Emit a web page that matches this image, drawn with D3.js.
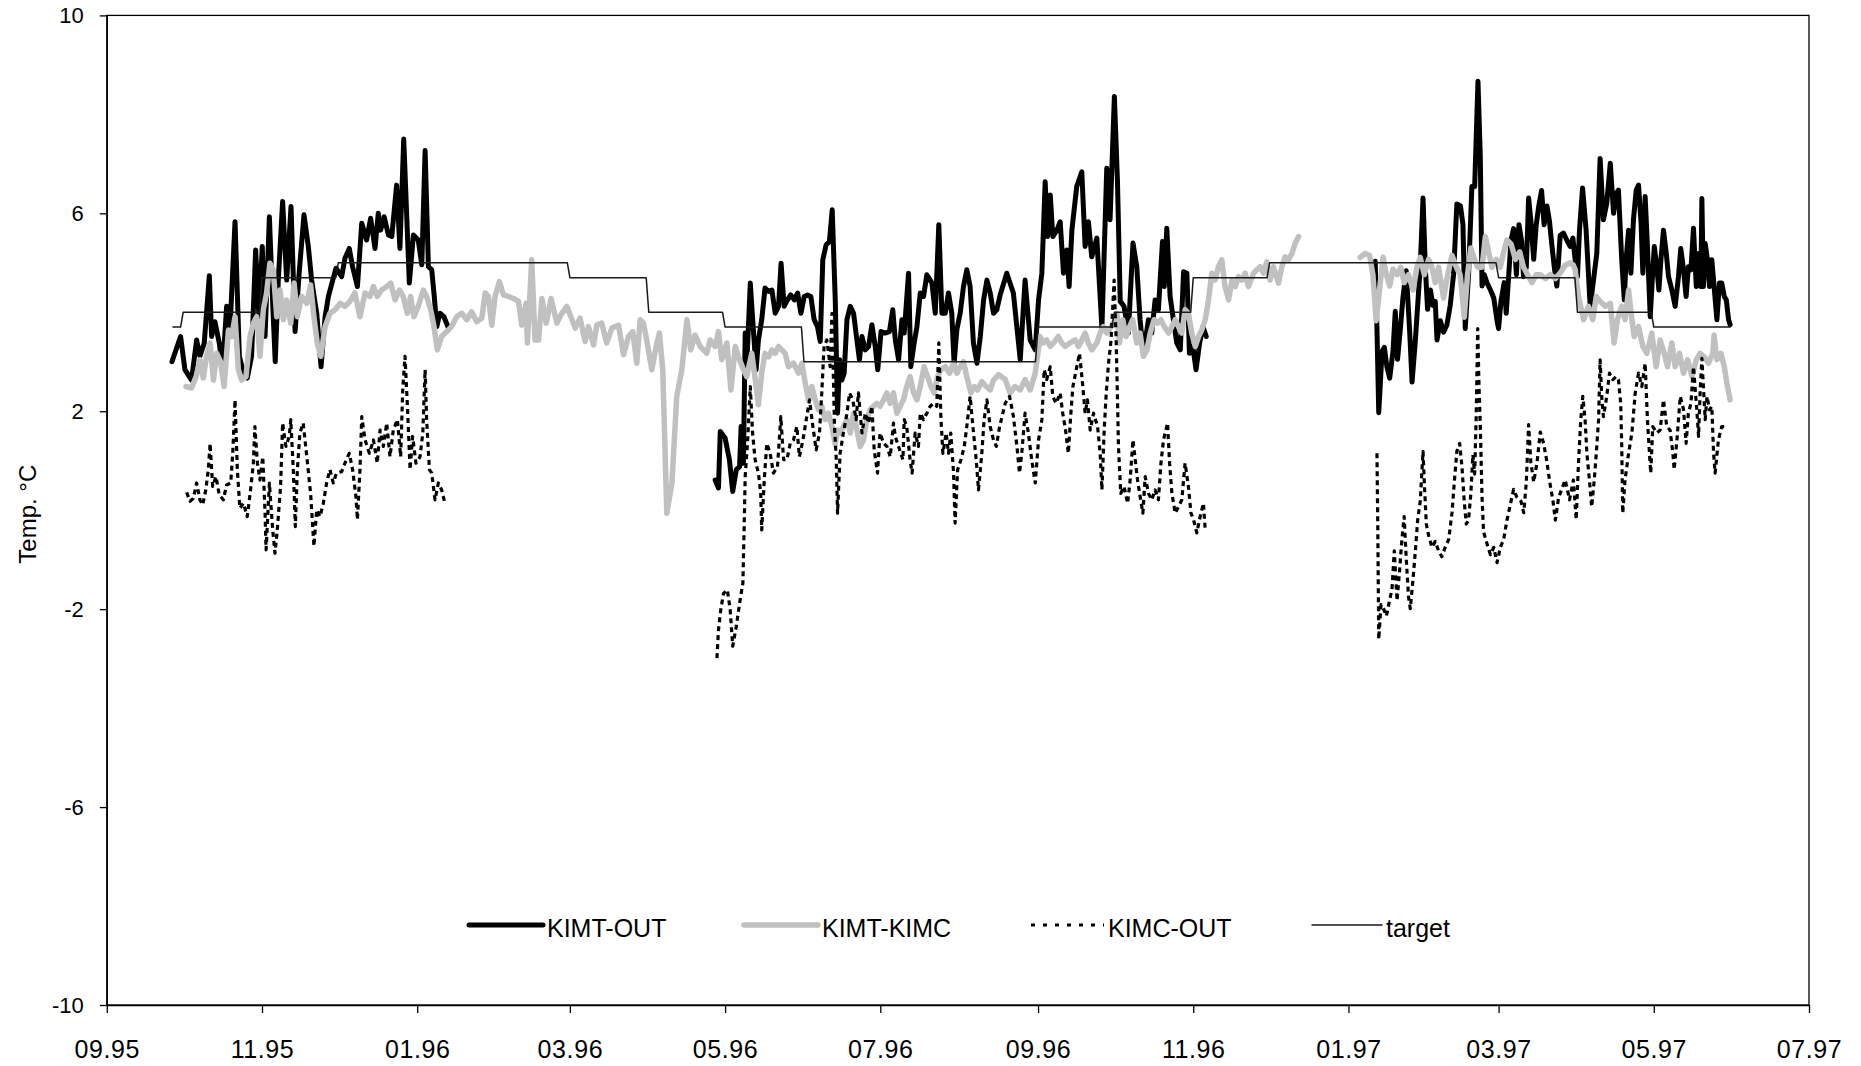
<!DOCTYPE html>
<html><head><meta charset="utf-8">
<script src="https://cdn.jsdelivr.net/npm/d3@7"></script>
<style>
body{margin:0;background:#fff}
text{font-family:"Liberation Sans",Arial,sans-serif;fill:#000}
</style>
</head><body>
<svg id="chart" width="1861" height="1066"></svg>
<script>
// ---------------- data ----------------
// x values are days counted from seriesStart (daily records), y values in °C
const seriesStart = "1995-09-01";
const xDomain = ["1995-09-01", "1997-07-01"];
const xTickDates = ["1995-09-01","1995-11-01","1996-01-01","1996-03-01","1996-05-01","1996-07-01",
  "1996-09-01","1996-11-01","1997-01-01","1997-03-01","1997-05-01","1997-07-01"];
const yTicks = [-10, -6, -2, 2, 6, 10];
const seriesNames = ["KIMT-OUT", "KIMT-KIMC", "KIMC-OUT", "target"];

const target = [[26,3.7],[29,3.7],[30,4.0],[60,4.0],[61,4.7],[90,4.7],[91,5.0],[181,5.0],[182,4.7],[212,4.7],
  [213,4.0],[242,4.0],[243,3.7],[273,3.7],[274,3.0],[365,3.0],[366,3.7],[395,3.7],[396,4.0],[426,4.0],
  [427,4.7],[456,4.7],[457,5.0],[546,5.0],[547,4.7],[577,4.7],[578,4.0],[607,4.0],[608,3.7],[638,3.7]];

const kimtOut1 = [[25.6,3.0],[29.0,3.51],[30.7,2.84],[33.3,2.63],[35.3,3.44],[36.6,3.11],[38.3,3.38],[40.3,4.74],[41.2,3.51],[42.5,3.81],[44.2,3.38],[45.5,2.84],[47.1,4.12],[48.4,3.64],[50.4,5.83],[52.1,3.11],[53.4,2.84],[55.2,2.67],[56.9,3.11],[58.5,5.26],[59.8,3.91],[61.1,5.33],[62.2,3.51],[63.9,5.93],[65.2,4.18],[66.2,3.0],[67.4,4.65],[69.1,6.24],[70.7,4.65],[72.4,6.14],[74.0,3.61],[75.7,4.86],[77.5,5.97],[79.2,5.33],[80.5,4.65],[82.5,3.98],[84.2,2.90],[85.8,3.91],[87.1,4.32],[88.8,4.65],[90.1,4.89],[92.3,4.72],[93.6,5.09],[95.3,5.29],[96.6,4.92],[98.5,4.52],[100.2,5.80],[102.1,5.46],[103.7,5.90],[105.4,5.29],[106.7,6.0],[107.6,5.66],[109.0,5.93],[110.7,5.56],[112.0,5.53],[113.9,6.57],[115.2,5.29],[116.7,7.5],[118.9,4.59],[120.5,5.56],[122.4,5.46],[123.8,4.96],[125.1,7.27],[126.4,4.92],[127.7,4.86],[128.7,4.32],[129.7,3.71],[130.9,3.98],[132.5,3.91],[134.3,3.68]];
const kimtOut2 = [[239.1,0.61],[240.4,0.45],[241.1,1.59],[243.0,1.46],[244.7,1.02],[246.0,0.38],[247.4,0.82],[248.7,0.88],[249.3,1.69],[250.2,0.95],[250.9,3.58],[251.5,2.90],[252.9,4.59],[254.2,3.58],[255.2,2.84],[256.1,3.44],[257.4,3.85],[258.7,4.49],[260.1,4.42],[261.4,4.45],[262.7,3.98],[264.0,4.12],[265.0,4.99],[266.2,4.12],[267.5,4.25],[268.8,4.35],[270.2,4.25],[271.5,4.39],[272.8,3.98],[274.1,4.32],[275.4,4.35],[276.7,4.32],[278.0,3.85],[279.3,3.71],[280.4,3.41],[281.4,5.06],[282.7,5.36],[284.0,5.43],[285.1,6.07],[286.3,4.25],[287.2,1.96],[288.0,3.04],[288.9,2.63],[289.8,2.77],[290.9,3.85],[292.2,4.12],[293.5,3.98],[294.8,3.44],[295.8,3.04],[296.8,3.51],[298.1,3.24],[299.4,3.31],[300.7,3.75],[302.0,3.31],[303.0,2.84],[304.3,3.61],[305.9,3.58],[307.6,3.61],[308.9,4.05],[309.9,3.44],[311.2,3.04],[312.5,3.85],[313.4,3.58],[315.1,4.79],[316.0,2.90],[317.1,3.31],[318.4,3.71],[319.7,4.39],[321.0,4.32],[322.3,4.76],[324.3,4.59],[325.6,3.98],[327.0,5.77],[328.2,3.98],[329.5,3.98],[330.8,4.39],[332.1,3.98],[333.0,2.97],[334.1,3.65],[335.4,3.98],[336.7,4.52],[338.0,4.86],[339.3,4.52],[340.6,3.38],[342.0,2.97],[343.3,3.51],[344.6,4.25],[345.9,4.65],[347.2,4.39],[348.5,3.98],[349.8,4.05],[351.1,4.35],[353.7,4.79],[356.3,4.39],[359.0,3.04],[360.9,4.65],[362.9,3.44],[364.9,3.24],[366.2,4.25],[367.5,4.79],[368.8,6.64],[369.7,5.53],[370.8,6.37],[371.8,5.53],[373.4,5.66],[374.7,5.83],[376.0,4.79],[377.3,5.26],[378.2,4.52],[379.3,5.66],[381.2,6.54],[383.2,6.84],[384.5,5.33],[385.8,5.83],[387.1,5.12],[389.1,5.50],[391.1,3.68],[393.0,6.91],[394.3,5.87],[396.0,8.36],[397.2,6.67],[398.3,4.22],[399.8,4.12],[401.5,3.58],[403.3,5.40],[404.8,4.92],[406.1,3.85],[407.4,3.17],[409.4,3.85],[410.7,3.58],[412.0,4.25],[413.3,4.05],[414.9,5.43],[415.6,4.52],[416.6,5.70],[417.9,4.32],[419.2,3.85],[420.5,3.38],[421.9,3.24],[423.2,4.82],[424.5,4.79],[425.5,3.17],[426.8,3.31],[428.1,2.84],[429.5,3.38],[430.8,3.71],[432.1,3.51]];
const kimtOut3 = [[498.5,5.03],[499.2,3.67],[499.9,1.97],[501.2,3.21],[502.1,3.29],[503.1,2.90],[504.2,2.67],[505.5,3.21],[506.4,4.02],[507.3,3.05],[508.4,3.67],[509.4,4.29],[510.7,4.84],[512.0,3.67],[513.0,2.59],[514.3,3.44],[515.6,4.45],[516.2,4.91],[517.3,6.31],[518.2,4.91],[519.1,4.06],[520.2,4.45],[521.2,4.14],[522.1,4.22],[522.8,3.44],[524.1,3.83],[525.4,3.60],[526.7,3.75],[528.0,4.14],[529.3,4.76],[530.6,6.19],[532.0,6.15],[533.0,5.77],[533.9,3.67],[535.2,4.76],[536.5,6.54],[537.6,6.54],[538.9,8.67],[539.8,7.16],[540.5,4.53],[541.4,4.76],[542.4,4.60],[543.8,4.45],[545.1,4.29],[546.4,3.83],[547.0,3.67],[547.9,4.21],[549.2,4.60],[550.0,3.98],[551.0,4.76],[551.9,5.46],[552.9,5.69],[554.0,4.76],[555.0,5.77],[556.1,5.42],[556.8,4.72],[557.9,4.91],[558.8,6.31],[559.7,5.84],[560.8,5.07],[561.8,5.77],[562.8,6.15],[563.9,6.46],[564.9,5.77],[566.0,6.15],[567.0,5.84],[567.9,5.38],[568.9,4.91],[569.9,4.53],[571.2,5.55],[572.5,5.6],[573.8,5.46],[575.1,5.33],[576.2,5.50],[577.1,5.06],[578.0,4.72],[578.8,5.66],[580.0,6.51],[581.4,5.66],[583.0,4.12],[584.3,4.65],[585.6,5.19],[586.9,7.11],[588.2,5.87],[589.5,6.20],[590.9,7.01],[592.2,6.00],[593.2,6.40],[594.1,6.47],[595.4,5.06],[596.4,4.25],[597.1,5.06],[598.1,5.66],[599.0,4.79],[600.0,5.87],[601.1,6.47],[602.0,6.57],[603.0,5.80],[603.7,4.79],[604.6,6.34],[605.5,5.33],[606.6,3.91],[607.4,4.65],[608.2,5.33],[609.2,4.92],[610.0,4.45],[610.8,5.06],[611.8,5.66],[612.9,5.19],[613.8,4.72],[615.1,4.45],[616.4,4.12],[617.7,4.72],[618.6,5.29],[619.7,4.86],[620.7,4.32],[621.6,4.92],[622.6,4.86],[623.6,5.70],[624.7,4.52],[625.6,5.19],[626.5,4.52],[626.9,6.30],[627.5,4.52],[628.2,5.39],[629.1,5.06],[629.9,4.52],[630.8,5.06],[631.7,4.52],[632.8,3.85],[633.8,4.59],[634.7,4.59],[635.7,4.32],[636.5,4.25],[637.4,3.85],[638.0,3.75]];

const kimtKimc1 = [[31.1,2.50],[33.3,2.47],[35.1,2.70],[36.6,3.04],[37.9,2.67],[39.2,3.11],[40.6,3.38],[41.9,2.63],[43.2,3.17],[44.7,3.00],[46.1,2.50],[47.8,3.64],[49.1,3.51],[50.4,3.91],[51.7,2.84],[53.0,2.63],[54.7,2.70],[56.3,3.51],[57.6,3.78],[58.9,3.91],[60.2,3.11],[61.5,4.05],[62.8,4.39],[64.1,4.99],[65.4,4.86],[66.8,3.91],[68.1,4.45],[69.4,3.85],[70.7,4.25],[72.3,3.78],[73.6,4.59],[74.9,3.91],[76.6,4.32],[78.6,4.18],[80.1,4.55],[81.4,3.91],[82.7,3.38],[84.1,3.11],[85.8,3.71],[87.7,3.98],[89.7,4.05],[91.7,4.18],[93.6,4.12],[95.6,4.22],[97.5,4.39],[99.5,3.91],[101.5,4.39],[103.4,4.32],[104.8,4.52],[106.3,4.32],[108.0,4.45],[110.0,4.52],[111.6,4.59],[113.3,4.25],[115.0,4.45],[116.5,4.32],[118.1,3.98],[119.4,4.32],[120.7,3.91],[122.4,4.12],[124.4,4.45],[125.7,4.32],[127.3,4.05],[128.6,3.71],[129.9,3.24],[131.6,3.51],[133.6,3.61],[135.5,3.71],[137.5,3.91],[139.5,3.98],[141.5,3.85],[143.4,4.01],[145.4,3.81],[147.4,3.88],[148.7,4.39],[150.0,4.32],[151.3,3.74],[152.6,4.32],[154.3,4.62],[155.9,4.35],[157.9,4.32],[159.8,4.28],[161.8,4.22],[163.1,3.74],[164.8,4.18],[165.3,3.38],[167.0,5.06],[168.3,3.44],[169.7,3.44],[171.0,4.28],[172.7,3.78],[174.6,4.28],[176.9,3.78],[178.8,3.98],[180.8,4.12],[182.4,3.91],[184.1,3.68],[186.0,3.88],[188.0,3.41],[189.3,3.71],[191.3,3.34],[192.6,3.74],[194.5,3.78],[196.5,3.38],[198.5,3.68],[201.1,3.74],[203.1,3.14],[205.0,3.51],[206.7,3.61],[208.3,2.97],[209.6,3.85],[210.9,3.78],[212.2,3.44],[214.2,2.84],[215.9,3.31],[217.2,3.58],[218.5,2.84],[220.1,-0.06],[222.1,0.55],[224.0,2.30],[226.0,2.84],[228.0,3.85],[229.5,3.24],[231.2,3.54],[233.2,3.31],[235.8,3.17],[237.1,3.44],[239.1,3.31],[240.4,3.61],[241.7,3.04],[243.7,3.38],[245.3,2.43],[247.0,3.31],[248.7,3.04],[250.2,2.84],[251.5,2.70],[253.5,3.17],[255.2,2.50],[256.1,2.13],[257.4,2.77],[258.7,3.17],[260.1,3.10],[261.4,3.24],[262.7,3.17],[264.0,3.31],[265.3,3.24],[266.6,3.17],[267.9,2.90],[269.9,2.97],[271.9,2.77],[273.2,2.97],[274.5,2.57],[275.8,2.23],[277.1,2.50],[278.4,2.23],[279.7,2.03],[281.0,2.10],[282.3,1.83],[283.6,1.96],[285.0,1.69],[286.3,1.32],[287.2,1.62],[288.5,1.56],[289.5,1.69],[290.9,1.83],[292.2,1.56],[293.5,1.96],[294.8,1.62],[296.1,1.29],[297.4,1.42],[298.7,1.83],[300.0,2.03],[301.3,2.10],[302.6,2.16],[303.9,2.10],[305.3,2.23],[306.6,2.37],[307.9,2.16],[309.2,2.37],[310.5,1.96],[311.8,2.10],[313.1,2.23],[314.4,2.50],[315.7,2.70],[317.1,2.37],[318.4,2.23],[319.7,2.50],[321.2,2.90],[322.6,2.70],[323.9,2.50],[325.2,2.37],[326.5,2.70],[327.8,2.84],[329.5,2.90],[331.2,2.77],[332.8,2.97],[334.1,2.77],[335.4,2.90],[336.7,3.00],[338.0,2.70],[339.6,2.37],[340.9,2.50],[342.2,2.43],[343.9,2.60],[345.6,2.50],[347.2,2.43],[348.5,2.63],[350.5,2.74],[353.1,2.64],[355.0,2.37],[357.0,2.50],[359.0,2.43],[360.9,2.64],[362.9,2.43],[364.9,2.77],[366.8,3.51],[368.1,3.38],[369.4,3.44],[370.8,3.31],[372.1,3.38],[374.0,3.51],[375.3,3.38],[376.6,3.31],[378.6,3.38],[380.6,3.44],[381.9,3.31],[383.2,3.44],[384.5,3.58],[385.8,3.38],[387.1,3.24],[389.1,3.38],[390.4,3.58],[391.7,3.71],[393.0,3.58],[394.3,3.68],[395.7,3.78],[397.0,3.98],[398.0,3.38],[399.3,3.85],[400.6,3.51],[402.0,3.71],[403.2,3.85],[404.8,3.38],[406.1,3.58],[407.4,3.11],[408.8,3.24],[410.1,3.58],[411.6,3.85],[412.9,3.78],[414.3,3.85],[415.6,3.71],[417.3,3.58],[418.6,3.71],[419.9,3.85],[421.2,3.71],[422.5,3.58],[423.8,4.05],[425.1,3.98],[426.4,3.58],[427.8,3.31],[429.1,3.51],[430.4,3.65],[431.7,3.85],[433.0,4.25],[434.3,4.79],[435.6,4.65],[436.9,4.92],[438.2,5.06],[439.5,4.52],[440.9,4.25],[442.2,4.65],[443.5,4.52],[444.8,4.72],[446.1,4.65],[447.4,4.79],[448.7,4.52],[450.7,4.79],[452.0,4.86],[453.3,4.92],[454.6,4.79],[455.9,5.02],[457.2,4.65],[458.5,4.92],[460.5,4.59],[461.8,4.92],[463.1,5.12],[464.4,5.06],[465.8,5.19],[467.1,5.40],[468.4,5.53]];
const kimtKimc2 = [[492.6,5.11],[494.6,5.19],[496.3,5.15],[497.6,4.76],[498.9,3.83],[500.2,4.45],[501.6,5.11],[502.9,4.76],[504.2,4.53],[505.5,4.87],[507.1,4.76],[508.6,4.91],[509.9,4.60],[511.6,4.76],[513.4,4.45],[514.9,4.91],[516.2,5.11],[517.8,4.76],[519.5,5.07],[520.8,4.91],[522.1,4.60],[523.4,4.91],[525.4,4.29],[527.0,4.76],[528.7,5.15],[530.4,4.91],[531.9,4.76],[533.5,3.90],[534.8,4.76],[536.1,5.30],[537.5,5.07],[538.8,4.91],[540.5,4.91],[541.8,5.53],[543.1,5.22],[544.4,4.91],[546.1,5.07],[547.7,4.91],[549.0,5.22],[550.3,5.46],[551.9,5.38],[553.6,5.07],[555.3,5.22],[556.8,4.91],[558.4,4.76],[560.1,4.60],[561.8,4.76],[563.4,4.76],[565.4,4.68],[567.3,4.76],[569.3,4.68],[571.3,4.80],[573.2,4.95],[575.1,5.0],[576.4,4.95],[577.1,4.86],[578.4,4.32],[580.4,3.85],[582.3,4.12],[584.0,3.85],[585.4,4.32],[586.9,4.22],[588.9,4.12],[590.9,4.18],[592.4,3.38],[593.7,3.85],[595.4,4.12],[596.7,3.85],[598.1,4.45],[599.4,3.85],[600.3,3.51],[602.0,3.71],[603.7,3.31],[605.3,3.17],[607.2,3.58],[608.9,2.90],[610.5,3.44],[612.1,3.17],[613.4,2.90],[615.1,3.38],[616.4,2.90],[618.1,3.17],[619.7,2.77],[621.3,3.04],[623.0,2.70],[624.7,3.04],[626.2,3.17],[627.8,3.10],[629.5,2.97],[631.2,3.17],[631.7,3.54],[632.8,3.04],[634.4,3.17],[635.7,2.90],[636.7,2.57],[638.0,2.23]];

const kimcOut1 = [[31.4,0.36],[32.7,0.18],[34.0,0.24],[35.3,0.55],[36.6,0.21],[37.7,0.11],[38.9,0.41],[39.9,0.82],[40.6,1.35],[41.6,0.48],[42.9,0.68],[44.2,0.31],[45.8,0.21],[47.1,0.51],[48.7,0.55],[49.5,1.15],[50.4,2.23],[51.3,0.82],[52.3,0.04],[53.7,0.14],[55.2,-0.13],[56.5,0.41],[57.6,0.95],[58.2,1.69],[59.2,0.95],[60.2,0.61],[61.3,1.08],[62.2,-0.06],[62.6,-0.80],[63.9,0.55],[65.2,-0.40],[66.1,-0.87],[67.0,-0.40],[68.3,0.48],[69.1,1.76],[70.4,1.29],[71.7,1.49],[72.3,1.83],[73.3,0.82],[74.1,-0.33],[74.9,0.82],[75.9,1.56],[77.2,1.76],[78.6,1.08],[80.1,0.34],[81.4,-0.73],[82.5,0.01],[83.8,-0.13],[85.1,0.14],[86.4,0.55],[87.7,0.82],[89.0,0.55],[90.3,0.75],[92.3,0.78],[93.6,0.95],[95.3,1.15],[96.6,0.82],[97.9,0.28],[98.5,-0.19],[99.5,0.82],[100.2,1.89],[101.5,1.42],[103.2,1.15],[104.8,1.42],[106.3,0.95],[107.4,1.62],[108.7,1.29],[110.0,1.76],[111.3,1.08],[112.6,1.62],[114.2,1.83],[115.5,1.08],[116.3,2.43],[117.2,3.11],[118.1,2.16],[119.2,0.82],[120.2,1.49],[121.5,0.95],[123.1,1.08],[124.2,1.56],[125.1,2.84],[125.7,1.83],[126.8,0.82],[127.7,0.75],[129.0,0.21],[130.3,0.55],[131.6,0.41],[132.9,0.14]];
const kimcOut2 = [[239.8,-2.99],[240.4,-2.42],[241.3,-2.01],[242.4,-1.68],[243.9,-1.61],[245.0,-2.01],[246.0,-2.75],[247.4,-2.35],[248.7,-1.88],[250.0,-1.47],[250.5,-0.33],[250.9,0.68],[251.8,1.35],[252.9,2.50],[253.8,1.56],[254.8,1.02],[256.1,0.75],[257.0,0.35],[257.4,-0.40],[258.4,0.61],[259.4,1.35],[260.7,1.15],[262.0,0.75],[263.6,0.88],[264.9,1.89],[266.0,1.02],[267.3,1.02],[268.6,1.35],[269.9,1.42],[271.2,1.69],[272.2,1.08],[273.6,1.42],[274.9,1.83],[276.2,2.23],[277.5,1.69],[278.8,1.22],[280.1,1.56],[281.0,2.37],[281.9,3.31],[283.0,3.44],[284.3,2.90],[285.0,3.98],[286.0,1.69],[286.7,1.02],[287.2,-0.06],[288.2,1.15],[289.5,1.56],[290.9,1.96],[291.9,2.37],[293.2,2.23],[294.5,1.83],[295.4,2.37],[296.8,1.56],[298.1,1.96],[299.4,1.76],[300.7,2.10],[301.6,1.22],[302.9,0.75],[303.9,1.56],[305.3,1.35],[306.6,1.29],[307.9,1.08],[309.2,1.76],[309.9,1.49],[311.6,1.22],[312.9,1.02],[313.4,1.83],[314.4,1.69],[315.7,1.02],[316.5,0.75],[317.7,1.56],[319.0,1.29],[319.7,1.96],[321.0,1.83],[322.3,1.96],[323.6,2.10],[324.9,2.16],[326.2,2.10],[327.0,3.38],[327.8,1.89],[328.6,1.15],[329.9,1.56],[330.8,1.15],[331.7,1.56],[332.8,0.75],[333.4,-0.26],[334.4,0.82],[335.7,1.02],[337.0,1.29],[338.0,1.69],[339.3,2.30],[340.4,1.69],[341.7,1.02],[342.6,0.41],[343.9,1.15],[344.8,1.83],[345.9,2.23],[347.2,1.69],[348.5,1.42],[349.6,1.29],[350.9,1.69],[353.1,2.16],[354.8,2.30],[356.3,1.90],[357.7,1.29],[358.7,0.75],[359.6,1.15],[360.9,1.96],[362.2,1.56],[363.5,1.02],[364.9,0.55],[366.2,1.42],[367.5,1.83],[368.4,2.84],[369.4,2.64],[370.8,2.90],[371.8,2.30],[373.1,2.16],[374.7,2.37],[375.7,1.96],[376.8,1.62],[377.9,1.15],[378.9,1.96],[379.7,2.50],[381.0,2.84],[382.3,3.17],[383.6,2.50],[384.5,1.96],[385.4,2.23],[386.5,1.62],[387.8,1.96],[389.4,1.69],[390.4,1.15],[391.1,0.41],[392.0,1.62],[392.8,2.37],[393.7,2.97],[394.7,3.44],[395.9,4.65],[396.7,3.44],[397.2,2.30],[397.6,1.29],[398.5,0.34],[399.8,0.48],[401.2,0.14],[402.2,0.61],[403.3,1.42],[404.2,1.02],[405.1,0.61],[406.1,0.28],[407.2,-0.06],[408.1,0.68],[409.4,0.34],[410.7,0.21],[412.0,0.41],[413.3,0.21],[414.3,0.95],[415.3,1.42],[416.9,1.76],[417.7,0.95],[418.6,0.34],[419.9,-0.06],[421.2,0.07],[422.5,0.21],[423.8,0.95],[425.1,0.48],[426.1,-0.06],[427.1,-0.19],[428.4,-0.46],[429.7,-0.13],[431.0,0.14],[431.7,-0.40]];
const kimcOut3 = [[499.2,1.15],[499.5,-0.20],[499.9,-2.61],[500.8,-1.91],[501.8,-1.99],[502.9,-2.14],[503.8,-1.91],[505.1,-1.60],[506.0,-0.82],[507.1,-1.83],[508.1,-1.21],[509.0,-0.59],[509.9,-0.13],[510.7,-0.98],[511.6,-1.75],[512.3,-1.99],[513.3,-1.44],[514.3,-0.82],[515.2,-0.20],[516.2,0.18],[517.3,1.19],[517.8,0.57],[518.6,-0.28],[519.5,-0.51],[520.8,-0.75],[522.1,-0.63],[523.4,-0.82],[524.7,-0.94],[526.0,-0.75],[527.4,-0.59],[528.7,-0.05],[529.6,0.57],[530.6,1.19],[531.7,1.35],[532.6,0.88],[533.5,0.18],[534.3,-0.28],[535.2,-0.20],[536.1,0.34],[536.9,1.12],[537.6,0.73],[538.2,1.89],[538.8,3.67],[539.3,2.51],[539.8,1.73],[540.5,0.26],[541.1,-0.44],[542.4,-0.67],[543.8,-0.90],[545.1,-0.75],[546.4,-1.06],[547.7,-0.75],[549.0,-0.59],[550.3,-0.20],[551.6,0.11],[552.9,0.42],[554.2,0.26],[555.8,0.18],[556.9,-0.05],[557.9,0.57],[558.8,1.73],[559.7,0.96],[560.8,0.57],[562.1,0.96],[563.4,1.58],[564.7,1.35],[565.8,1.04],[567.1,0.57],[568.4,0.18],[569.3,-0.20],[570.6,0.26],[571.2,0.34],[573.2,0.61],[574.9,0.21],[576.4,0.61],[577.5,-0.19],[578.4,0.95],[579.3,1.83],[580.1,2.30],[581.0,1.83],[581.7,1.15],[582.7,0.61],[583.6,0.07],[584.6,0.61],[585.4,1.15],[586.3,1.83],[586.9,3.04],[587.6,2.23],[588.2,1.89],[589.5,2.30],[590.6,2.77],[591.9,2.64],[593.2,2.70],[594.1,2.64],[595.0,2.16],[595.4,1.29],[595.8,-0.06],[596.7,0.61],[598.1,1.15],[599.4,1.56],[600.7,2.37],[602.0,2.77],[603.3,2.50],[604.6,2.97],[605.5,1.83],[606.3,1.15],[606.8,0.75],[607.6,1.69],[609.2,1.56],[610.5,1.62],[611.8,2.23],[613.1,1.69],[614.4,1.62],[615.5,1.15],[616.0,0.82],[617.1,1.42],[618.4,2.30],[619.7,2.03],[620.7,1.35],[621.6,1.96],[622.6,2.16],[623.6,2.90],[624.9,2.03],[625.6,1.49],[626.2,2.37],[626.9,3.07],[627.5,2.50],[628.2,1.83],[628.9,2.30],[629.9,2.03],[630.8,2.10],[631.5,1.15],[632.1,0.75],[633.4,1.42],[634.7,1.69],[636.1,1.69],[637.0,1.72]];

// ---------------- drawing ----------------
const svg = d3.select("#chart");
svg.append("rect").attr("width", 1861).attr("height", 1066).attr("fill", "#fff");

const plot = {left: 106.8, right: 1809, top: 15.4, bottom: 1005};
const parse = d3.utcParse("%Y-%m-%d");
const t0 = parse(seriesStart);
const toDate = d => new Date(+t0 + d * 864e5);

const x = d3.scaleUtc().domain(xDomain.map(parse)).range([plot.left, plot.right]);
const y = d3.scaleLinear().domain([-10, 10]).range([plot.bottom, plot.top]);

// frame
svg.append("rect")
  .attr("x", plot.left).attr("y", plot.top)
  .attr("width", plot.right - plot.left).attr("height", plot.bottom - plot.top)
  .attr("fill", "none").attr("stroke", "#000").attr("stroke-width", 1.3);

const xAxis = svg.append("g")
  .attr("transform", `translate(0,${plot.bottom})`)
  .call(d3.axisBottom(x).tickValues(xTickDates.map(parse))
    .tickFormat(d3.utcFormat("%m.%y")).tickSizeInner(8).tickSizeOuter(0).tickPadding(27));
xAxis.selectAll("text").attr("font-size", 25).attr("letter-spacing", 0.6)
  .attr("font-family", '"Liberation Sans", Arial, sans-serif');

const yAxis = svg.append("g")
  .attr("transform", `translate(${plot.left},0)`)
  .call(d3.axisLeft(y).tickValues(yTicks).tickFormat(d => String(d))
    .tickSizeInner(7).tickSizeOuter(0).tickPadding(16));
yAxis.selectAll("text").attr("font-size", 22).attr("font-family", '"Liberation Sans", Arial, sans-serif');

[xAxis, yAxis].forEach(g => {
  g.select(".domain").attr("stroke", "#000").attr("stroke-width", 1.3);
  g.selectAll(".tick line").attr("stroke", "#000").attr("stroke-width", 1.3);
  g.selectAll("text").attr("fill", "#000");
});

svg.append("text")
  .attr("transform", `translate(28,${(plot.top + plot.bottom) / 2 + 4}) rotate(-90)`)
  .attr("text-anchor", "middle").attr("dy", "0.35em")
  .attr("font-size", 24).text("Temp. °C");

const line = d3.line().x(d => x(toDate(d[0]))).y(d => y(d[1]));

const styles = {
  "KIMT-OUT": {stroke: "#000", width: 5, dash: null},
  "KIMT-KIMC": {stroke: "#c0c0c0", width: 5.5, dash: null},
  "KIMC-OUT": {stroke: "#000", width: 3.2, dash: "5,4"},
  "target": {stroke: "#1a1a1a", width: 1.5, dash: null}
};
const segments = {
  "KIMT-OUT": [kimtOut1, kimtOut2, kimtOut3],
  "KIMT-KIMC": [kimtKimc1, kimtKimc2],
  "KIMC-OUT": [kimcOut1, kimcOut2, kimcOut3],
  "target": [target]
};

seriesNames.forEach(name => {
  const s = styles[name];
  svg.append("g").selectAll("path").data(segments[name]).join("path")
    .attr("d", line)
    .attr("fill", "none")
    .attr("stroke", s.stroke)
    .attr("stroke-width", s.width)
    .attr("stroke-linejoin", "round")
    .attr("stroke-linecap", s.dash ? "butt" : "round")
    .attr("stroke-dasharray", s.dash);
});

// legend
const legendX = [469, 744, 1031, 1312];
const legendLen = [74, 74, 73, 70];
const legendY = 925;
const lg = svg.append("g");
seriesNames.forEach((name, i) => {
  const s = styles[name];
  lg.append("line")
    .attr("x1", legendX[i]).attr("x2", legendX[i] + legendLen[i])
    .attr("y1", legendY).attr("y2", legendY)
    .attr("stroke", s.stroke).attr("stroke-width", s.width)
    .attr("stroke-linecap", s.dash ? "butt" : "round")
    .attr("stroke-dasharray", s.dash ? "4,8" : null);
  lg.append("text")
    .attr("x", legendX[i] + legendLen[i] + 4).attr("y", legendY + 12)
    .attr("font-size", 25).text(name);
});
</script>
</body></html>
